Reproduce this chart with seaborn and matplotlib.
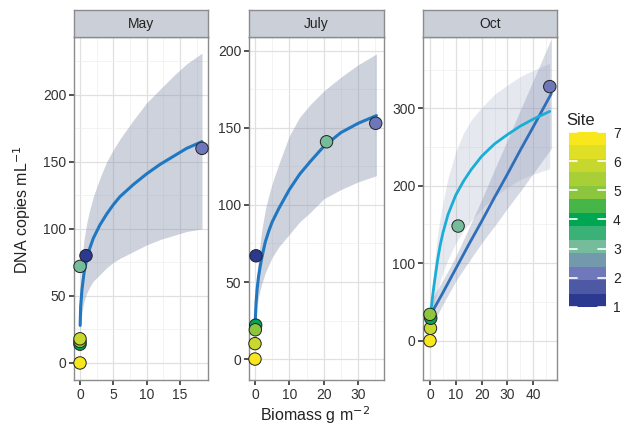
import numpy as np
import pandas as pd
import matplotlib
matplotlib.use("Agg")
import matplotlib.pyplot as plt
import seaborn as sns
from matplotlib.colors import LinearSegmentedColormap, Normalize
from matplotlib.ticker import MultipleLocator
from matplotlib.cm import ScalarMappable

sns.set_theme(style="white")
plt.rcParams['font.family'] = ['Liberation Sans', 'DejaVu Sans']

# site colour gradient (1 -> 7)
site_levels = [1, 2, 3, 4, 5, 6, 7]
site_colors = ["#2b3990", "#7078bc", "#74bc9c", "#00a651", "#8cc63f", "#c6d82e", "#f8e71c"]

# observed points
pt_month = ["May"] * 7 + ["July"] * 7 + ["Oct"] * 6
pt_site = [4, 5, 6, 7, 3, 1, 2,
           7, 6, 4, 5, 1, 3, 2,
           7, 6, 4, 5, 3, 2]
pt_biomass = [0.0, 0.0, 0.0, 0.0, 0.0, 0.9, 18.3,
              0.0, 0.0, 0.2, 0.1, 0.3, 20.8, 35.1,
              0.0, 0.2, 0.3, 0.0, 10.9, 46.4]
pt_dna = [14, 16, 18, 0, 72, 80, 160,
          0, 10, 22, 19, 67, 141, 153,
          0, 16, 29, 34, 148, 328]

# fitted saturating curves with confidence ribbons
may_x = [0.02, 0.1, 0.3, 0.6, 1, 1.5, 2, 3, 4, 5, 6, 8, 10, 12, 14, 16, 18.3]
may_fit = [28, 42, 55, 67, 77, 86, 93, 103, 111, 118, 124, 133, 141, 148, 154, 160, 165]
may_lo = [18, 28, 38, 46, 52, 57, 61, 66, 71, 75, 78, 83, 88, 92, 95, 98, 100]
may_hi = [40, 60, 78, 92, 104, 115, 124, 138, 150, 159, 167, 181, 194, 204, 214, 223, 231]

jul_x = [0.02, 0.1, 0.3, 0.6, 1, 1.5, 2, 3, 4, 5, 7, 10, 13, 16, 20, 25, 30, 35.3]
jul_fit = [19, 26, 36, 45, 53, 60, 66, 76, 83, 89, 98, 110, 120, 128, 138, 147, 153, 158]
jul_lo = [16, 21, 28, 34, 40, 45, 49, 56, 61, 66, 73, 81, 89, 95, 104, 110, 115, 119]
jul_hi = [22, 31, 44, 56, 66, 75, 84, 97, 106, 114, 127, 145, 157, 165, 174, 183, 191, 198]

oct_x = [0.02, 0.1, 0.3, 0.6, 1, 1.5, 2, 3, 4, 5, 7, 10, 13, 16, 20, 25, 30, 35, 40, 46.4]
oct_fit = [10, 20, 32, 45, 57, 70, 82, 105, 124, 139, 163, 188, 206, 221, 238, 254, 266, 277, 286, 296]
oct_lo = [8, 14, 22, 30, 38, 46, 53, 66, 78, 88, 105, 126, 142, 155, 170, 186, 198, 208, 215, 222]
oct_hi = [12, 26, 42, 58, 74, 92, 108, 138, 160, 178, 210, 244, 268, 285, 301, 318, 330, 341, 349, 358]

# linear fit in October
lin_x = [0, 5, 10, 15, 20, 25, 30, 35, 40, 47]
lin_fit = [32, 62, 93, 124, 154, 185, 215, 246, 276, 319]
lin_lo = [14, 47, 77, 102, 126, 148, 171, 193, 216, 248]
lin_hi = [50, 78, 109, 145, 182, 221, 259, 298, 336, 390]

points = pd.DataFrame({"month": pt_month, "site": pt_site,
                       "biomass": pt_biomass, "dna": pt_dna})

cmap = LinearSegmentedColormap.from_list(
    "site", [((s - 1) / 6, c) for s, c in zip(site_levels, site_colors)])

W, H = 633, 429
fig = plt.figure(figsize=(W / 100, H / 100), dpi=100)

panels = [
    # name, left px, right px, xlim, ylim, x major/minor, y major/minor
    ("May", 74, 208, (-0.9, 19.2), (-12.7, 243), (5, 2.5), (50, 25)),
    ("July", 249, 384, (-1.74, 37.5), (-13.6, 209), (10, 5), (50, 25)),
    ("Oct", 423, 557, (-2.7, 49.2), (-50.7, 392), (10, 5), (100, 50)),
]
fits = {
    "May": (may_x, may_fit, may_lo, may_hi),
    "July": (jul_x, jul_fit, jul_lo, jul_hi),
    "Oct": (oct_x, oct_fit, oct_lo, oct_hi),
}

top_px, bot_px, strip_top = 37, 380, 10
border = "#8c8c8c"

for name, l, r, xlim, ylim, xt, yt in panels:
    ax = fig.add_axes([l / W, 1 - bot_px / H, (r - l) / W, (bot_px - top_px) / H])
    ax.set_facecolor("white")
    ax.set_xlim(*xlim)
    ax.set_ylim(*ylim)
    ax.xaxis.set_major_locator(MultipleLocator(xt[0]))
    ax.xaxis.set_minor_locator(MultipleLocator(xt[1]))
    ax.yaxis.set_major_locator(MultipleLocator(yt[0]))
    ax.yaxis.set_minor_locator(MultipleLocator(yt[1]))
    ax.grid(which="major", color="#e0e0e0", linewidth=0.9)
    ax.grid(which="minor", color="#eeeeee", linewidth=0.5)
    ax.set_axisbelow(True)
    for sp in ax.spines.values():
        sp.set_color(border)
        sp.set_linewidth(1.0)
    ax.tick_params(which="major", direction="out", length=3.5, width=1.2,
                   color="#333333", labelsize=10, labelcolor="#333333", pad=2,
                   bottom=True, left=True)
    ax.tick_params(which="minor", length=0)

    fx, fy, flo, fhi = fits[name]
    if name == "Oct":
        ax.fill_between(lin_x, lin_lo, lin_hi, color="#7f8aa8", alpha=0.32, linewidth=0)
        sns.lineplot(x=lin_x, y=lin_fit, ax=ax, color="#2f6fb8", linewidth=2.0)
        ax.fill_between(fx, flo, fhi, color="#8f98bf", alpha=0.22, linewidth=0)
        sns.lineplot(x=fx, y=fy, ax=ax, color="#1aaed6", linewidth=2.0)
    else:
        ax.fill_between(fx, flo, fhi, color="#7f8aa8", alpha=0.38, linewidth=0)
        sns.lineplot(x=fx, y=fy, ax=ax, color="#1f78c1", linewidth=2.2)

    sub = points[points["month"] == name]
    sns.scatterplot(data=sub, x="biomass", y="dna", hue="site", palette=cmap,
                    hue_norm=(1, 7), s=80, edgecolor="#222222", linewidth=0.7,
                    legend=False, ax=ax, zorder=5, clip_on=False)
    ax.set_xlabel("")
    ax.set_ylabel("")

    # facet strip
    sax = fig.add_axes([l / W, 1 - top_px / H, (r - l) / W, (top_px - strip_top) / H])
    sax.set_facecolor("#cbd0d8")
    sax.set_xticks([])
    sax.set_yticks([])
    for sp in sax.spines.values():
        sp.set_color(border)
        sp.set_linewidth(1.0)
    sax.text(0.5, 0.48, name, ha="center", va="center", fontsize=10, color="#222222",
             transform=sax.transAxes)

fig.text(315 / W, 1 - 415 / H, "Biomass g m$^{-2}$", ha="center", va="center",
         fontsize=11.5, color="#222222")
fig.text(22 / W, 1 - 210 / H, "DNA copies mL$^{-1}$", ha="center", va="center",
         rotation=90, fontsize=11.5, color="#222222")

# colourbar legend
cax = fig.add_axes([569 / W, 1 - 307 / H, 37 / W, 175 / H])
sm = ScalarMappable(norm=Normalize(1, 7), cmap=cmap.resampled(13))
cb = fig.colorbar(sm, cax=cax, ticks=site_levels)
cb.outline.set_visible(False)
cax.tick_params(length=0, labelsize=10, labelcolor="#222222", pad=5)
for s in site_levels:
    cax.plot([0, 0.22], [s, s], color="white", linewidth=1.2, transform=cax.get_yaxis_transform())
    cax.plot([0.78, 1], [s, s], color="white", linewidth=1.2, transform=cax.get_yaxis_transform())
fig.text(566 / W, 1 - 120 / H, "Site", ha="left", va="center", fontsize=12, color="#222222")

fig.savefig("out.png", dpi=100)
